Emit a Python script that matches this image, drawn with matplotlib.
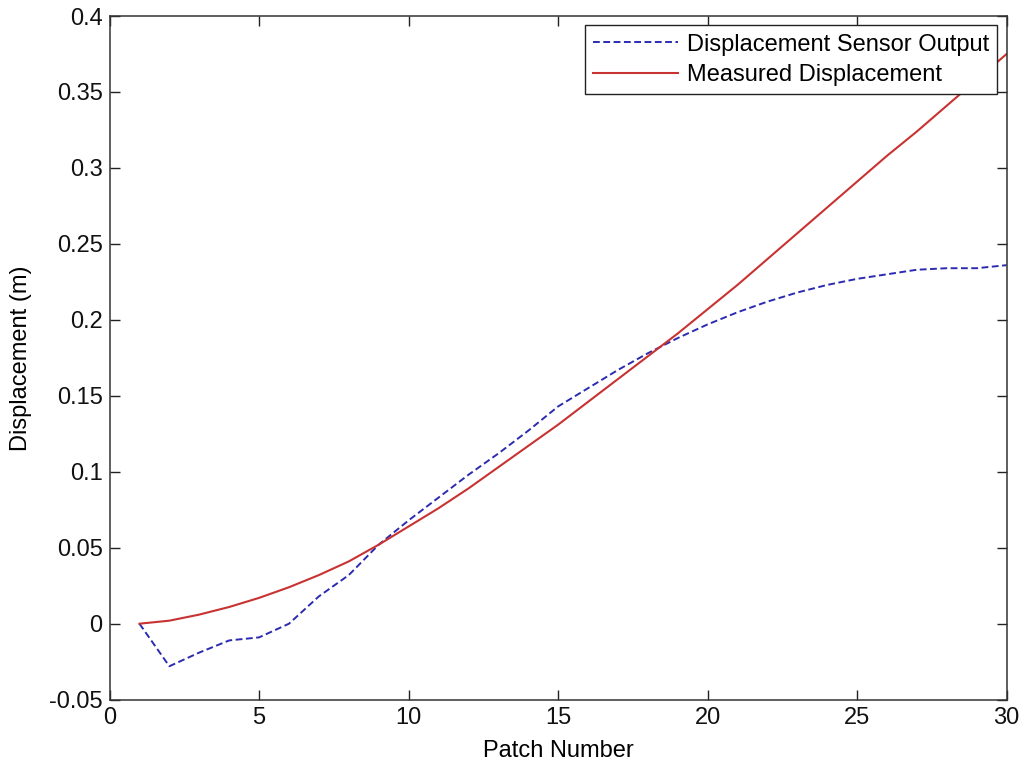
import matplotlib
matplotlib.use('Agg')
from matplotlib import pyplot as plt
import numpy as np

patch = np.arange(1, 31)

# sensor output
sensor = [0.0, -0.028, -0.019, -0.011, -0.009, 0.0, 0.018, 0.032, 0.052, 0.068,
          0.083, 0.098, 0.112, 0.127, 0.143, 0.155, 0.167, 0.178, 0.188, 0.197,
          0.205, 0.212, 0.218, 0.223, 0.227, 0.230, 0.233, 0.234, 0.234, 0.236]

# measured displacement, solid curve
measured = [0.0, 0.002, 0.006, 0.011, 0.017, 0.024, 0.032, 0.041, 0.052, 0.064,
            0.076, 0.089, 0.103, 0.117, 0.131, 0.146, 0.161, 0.176, 0.191, 0.207,
            0.223, 0.240, 0.257, 0.274, 0.291, 0.308, 0.324, 0.341, 0.358, 0.375]

xticks = [0, 5, 10, 15, 20, 25, 30]
yticks = [-0.05, 0, 0.05, 0.1, 0.15, 0.2, 0.25, 0.3, 0.35, 0.4]
ytick_labels = ['-0.05', '0', '0.05', '0.1', '0.15', '0.2', '0.25', '0.3', '0.35', '0.4']

plt.rcParams['font.family'] = ['Liberation Sans', 'DejaVu Sans']
plt.rcParams['font.size'] = 17

fig = plt.figure(figsize=(10.24, 7.63), dpi=100)
ax = fig.add_axes([0.107, 0.083, 0.876, 0.896])

ax.plot(patch, sensor, '--', color='#2b2bb0', lw=1.4, dashes=(3.5, 1.8), label='Displacement Sensor Output')
ax.plot(patch, measured, '-', color='#c83232', lw=1.5, label='Measured Displacement')

ax.set_xlim(0, 30)
ax.set_ylim(-0.05, 0.4)
ax.set_xticks(xticks)
ax.set_yticks(yticks)
ax.set_yticklabels(ytick_labels)
ax.tick_params(direction='in', top=True, right=True, length=7, width=1, pad=5,
               colors='#222222', labelcolor='#111111')
for s in ax.spines.values():
    s.set_linewidth(1.1)
    s.set_color('#333333')

ax.set_xlabel('Patch Number', labelpad=8)
ax.set_ylabel('Displacement (m)', labelpad=12)

leg = ax.legend(loc='upper right', fancybox=False, framealpha=1, edgecolor='#222222',
                borderpad=0.35, handlelength=3.6, handletextpad=0.35, labelspacing=0.35,
                borderaxespad=0.4)
leg.get_frame().set_linewidth(1.0)

fig.savefig('out.png', dpi=100)
